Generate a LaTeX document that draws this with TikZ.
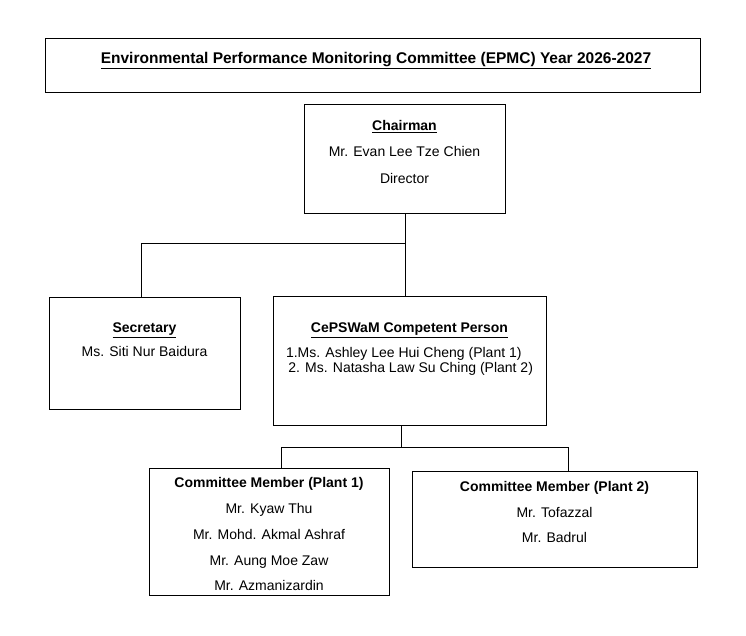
\documentclass[tikz,border=0pt]{standalone}
\usepackage{fontspec}
\setmainfont{Liberation Sans}
\begin{document}
\begin{tikzpicture}[x=1pt,y=-1pt,
  bx/.style={draw,line width=0.9pt,inner sep=0pt},
  ln/.style={line width=0.9pt},
  tl/.style={font=\fontsize{14}{17}\selectfont\bfseries,text height=10pt,text depth=3pt},
  tx/.style={font=\fontsize{14}{17}\selectfont,text height=10pt,text depth=3pt}]
\useasboundingbox (0,0) rectangle (746,635);
\node[bx,minimum width=655pt,minimum height=54pt] (title) at (372.5,65) {};
\node[tl,font=\fontsize{15.5}{18}\selectfont\bfseries] at (376,60) {\underline{Environmental Performance Monitoring Committee (EPMC) Year 2026-2027}};
\node[bx,minimum width=201pt,minimum height=109pt] (chair) at (404.5,158.5) {};
\node[tl] at (404.5,127) {\underline{Chairman}};
\node[tx] at (404.5,153) {Mr. Evan Lee Tze Chien};
\node[tx] at (404.5,180) {Director};
\node[bx,minimum width=191pt,minimum height=112pt] (sec) at (144.5,353) {};
\node[tl] at (144.5,329) {\underline{Secretary}};
\node[tx] at (144.5,353) {Ms. Siti Nur Baidura};
\node[bx,minimum width=273pt,minimum height=129pt] (cep) at (409.5,360.5) {};
\node[tl] at (409.5,329) {\underline{CePSWaM Competent Person}};
\node[tx,align=left,font=\fontsize{14}{15}\selectfont,text height=,text depth=] at (409.5,361) {1.Ms. Ashley Lee Hui Cheng (Plant 1)\\ \,2. Ms. Natasha Law Su Ching (Plant 2)};
\node[bx,minimum width=240pt,minimum height=127pt] (p1) at (269,531.5) {};
\node[tl] at (269,484) {Committee Member (Plant 1)};
\node[tx] at (269,510) {Mr. Kyaw Thu};
\node[tx] at (269,536) {Mr. Mohd. Akmal Ashraf};
\node[tx] at (269,562) {Mr. Aung Moe Zaw};
\node[tx] at (269,587) {Mr. Azmanizardin};
\node[bx,minimum width=285pt,minimum height=96pt] (p2) at (554.5,519) {};
\node[tl] at (554.5,488) {Committee Member (Plant 2)};
\node[tx] at (554.5,514) {Mr. Tofazzal};
\node[tx] at (554.5,539) {Mr. Badrul};
\coordinate (j1) at (405,243);
\coordinate (j2) at (141,243);
\draw[ln] (chair.south -| j1) -- (cep.north -| j1);
\draw[ln] (j1) -- (j2) -- (sec.north -| j2);
\coordinate (k1) at (401,447);
\coordinate (k2) at (281,447);
\coordinate (k3) at (568,447);
\draw[ln] (cep.south -| k1) -- (k1);
\draw[ln] (k2) -- (k3);
\draw[ln] (k2) -- (p1.north -| k2);
\draw[ln] (k3) -- (p2.north -| k3);
\end{tikzpicture}
\end{document}
